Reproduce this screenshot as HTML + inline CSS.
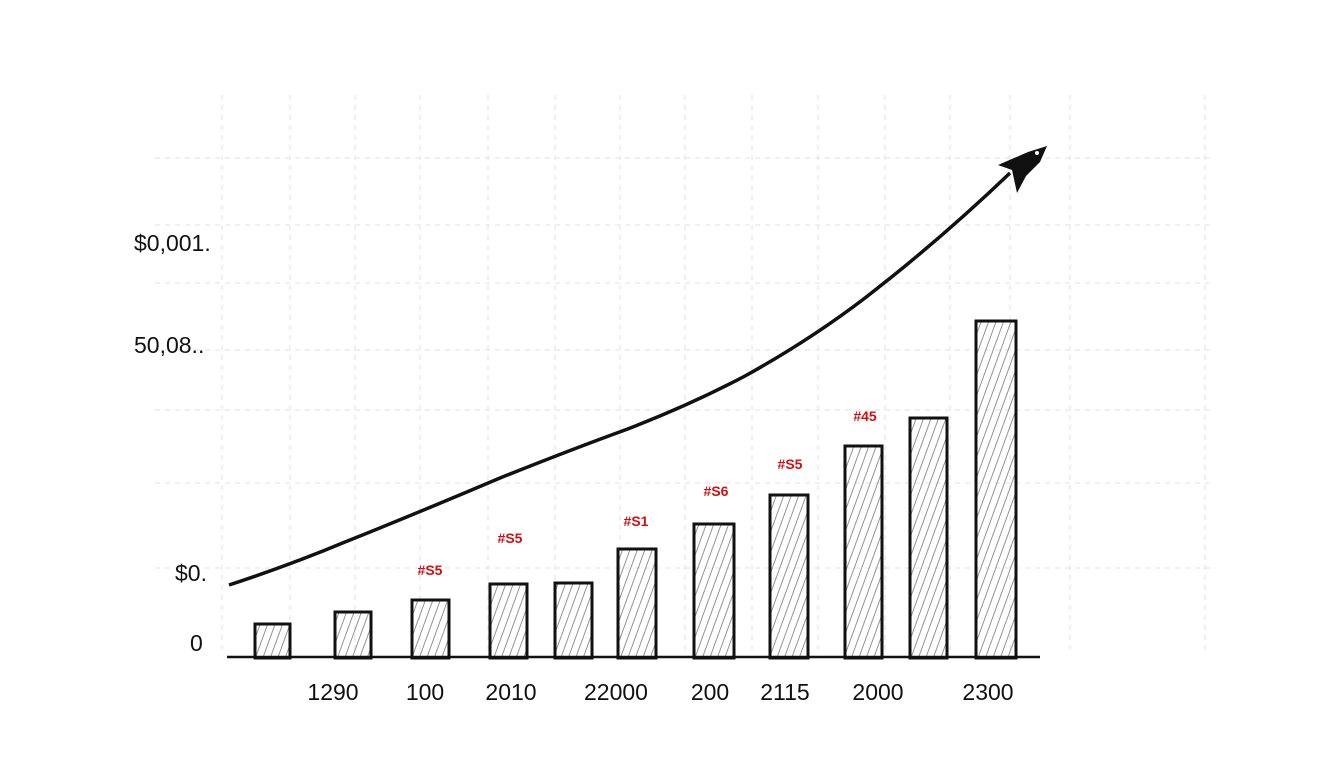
<!DOCTYPE html>
<html><head><style>
body{margin:0;background:#fff;}
svg{display:block;font-family:"Liberation Sans",sans-serif;}
</style></head><body>
<svg width="1344" height="768" viewBox="0 0 1344 768">
<defs>
<pattern id="h" width="7" height="14" patternUnits="userSpaceOnUse" patternTransform="rotate(20)">
<line x1="3" y1="0" x2="3" y2="14" stroke="#666" stroke-width="0.7"/>
</pattern>
</defs>
<g stroke="#e2e2e2" stroke-width="1" stroke-dasharray="5,5">
<line x1="222" y1="95" x2="222" y2="655"/><line x1="290" y1="95" x2="290" y2="655"/>
<line x1="355" y1="95" x2="355" y2="655"/><line x1="420" y1="95" x2="420" y2="655"/>
<line x1="488" y1="95" x2="488" y2="655"/><line x1="555" y1="95" x2="555" y2="655"/>
<line x1="620" y1="95" x2="620" y2="655"/><line x1="685" y1="95" x2="685" y2="655"/>
<line x1="752" y1="95" x2="752" y2="655"/><line x1="818" y1="95" x2="818" y2="655"/>
<line x1="885" y1="95" x2="885" y2="655"/><line x1="950" y1="95" x2="950" y2="655"/>
<line x1="1010" y1="95" x2="1010" y2="655"/><line x1="1070" y1="95" x2="1070" y2="655"/>
<line x1="1205" y1="95" x2="1205" y2="655"/>
<line x1="155" y1="158" x2="1210" y2="158"/><line x1="155" y1="225" x2="1210" y2="225"/>
<line x1="155" y1="283" x2="1210" y2="283"/><line x1="155" y1="350" x2="1210" y2="350"/>
<line x1="155" y1="410" x2="1210" y2="410"/><line x1="155" y1="483" x2="1210" y2="483"/>
<line x1="155" y1="568" x2="1210" y2="568"/>
</g>
<g stroke="#111" stroke-width="3" fill="url(#h)">
<rect x="255" y="624" width="35" height="34"/>
<rect x="335" y="612" width="36" height="46"/>
<rect x="412" y="600" width="37" height="58"/>
<rect x="490" y="584" width="37" height="74"/>
<rect x="555" y="583" width="37" height="75"/>
<rect x="618" y="549" width="38" height="109"/>
<rect x="694" y="524" width="40" height="134"/>
<rect x="770" y="495" width="38" height="163"/>
<rect x="845" y="446" width="37" height="212"/>
<rect x="910" y="418" width="37" height="240"/>
<rect x="976" y="321" width="40" height="337"/>
</g>
<line x1="227" y1="657" x2="1040" y2="657" stroke="#111" stroke-width="2.5"/>
<path d="M229,585 Q290,565 345,542 Q420,512 500,478 Q570,450 625,430 Q690,405 745,376 Q810,340 865,298 Q940,240 1010,173" fill="none" stroke="#111" stroke-width="3.5" stroke-linejoin="round"/>
<path d="M1047,146 L1028,152 L998,165 L1012,170 L1017,193 L1026,176 L1040,162 Z" fill="#111"/>
<circle cx="1037" cy="153" r="2" fill="#fff"/>
<g font-size="23" fill="#111">
<text x="134" y="251">$0,001.</text>
<text x="134" y="353">50,08..</text>
<text x="175" y="581">$0.</text>
<text x="190" y="651">0</text>
</g>
<g font-size="23" fill="#111" text-anchor="middle">
<text x="333" y="700">1290</text><text x="425" y="700">100</text>
<text x="511" y="700">2010</text><text x="616" y="700">22000</text>
<text x="710" y="700">200</text><text x="785" y="700">2115</text>
<text x="878" y="700">2000</text><text x="988" y="700">2300</text>
</g>
<g font-size="14" fill="#d01010" text-anchor="middle" font-weight="bold">
<text x="430" y="575">#S5</text><text x="510" y="543">#S5</text>
<text x="636" y="526">#S1</text><text x="716" y="496">#S6</text>
<text x="790" y="469">#S5</text><text x="865" y="421">#45</text>
</g>
</svg>
</body></html>
